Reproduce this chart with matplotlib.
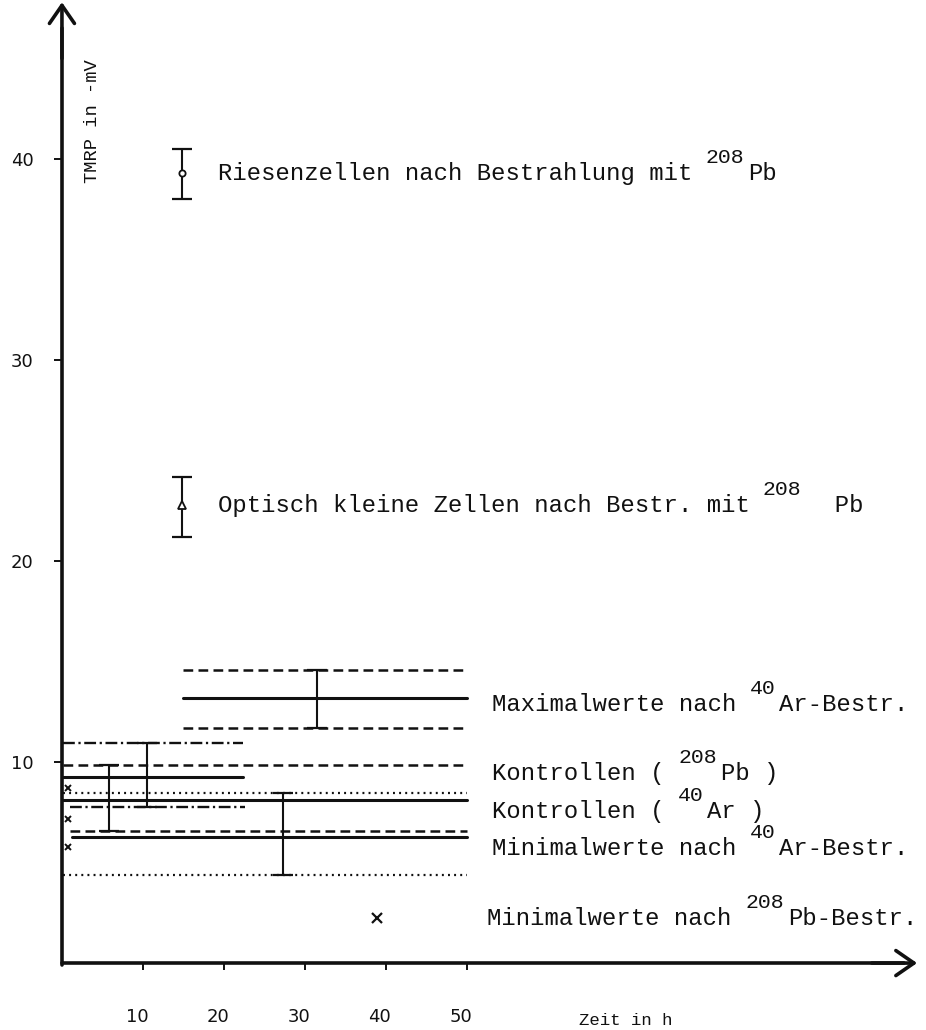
import matplotlib
matplotlib.use("Agg")
import matplotlib.pyplot as plt
from matplotlib.transforms import ScaledTranslation

plt.rcParams['lines.scale_dashes'] = False

# --- axes ---------------------------------------------------------------
x_ticks = [10, 20, 30, 40, 50]
x_tick_labels = ["10", "20", "30", "40", "50"]
y_ticks = [10, 20, 30, 40]
y_tick_labels = ["10", "20", "30", "40"]

# --- single measurements with error bars (time h, mean, low, high) ---------
giant_t, giant_mean, giant_lo, giant_hi = 14.8, 39.3, 38.0, 40.5
small_t, small_mean, small_lo, small_hi = 14.8, 22.8, 21.2, 24.2

# --- bands: mean line and its upper / lower bound lines --------------------
# maximum values after 40Ar irradiation
max_mean, max_lo, max_hi = 13.2, 11.7, 14.6
max_span = [14.9, 50.0]
max_err_t = 31.5

# controls, short band (dash-dot bounds)
ctrl_a_mean, ctrl_a_lo, ctrl_a_hi = 9.25, 7.76, 10.95
ctrl_a_span = [0.1, 22.4]
ctrl_a_lo_span = [1.0, 22.6]
ctrl_a_err_t = 10.5

# controls, long band (dashed bounds)
ctrl_b_mean, ctrl_b_lo, ctrl_b_hi = 8.1, 6.57, 9.85
ctrl_b_span = [0.1, 50.0]
ctrl_b_lo_span = [1.0, 50.0]
ctrl_b_err_t = 5.8

# minimum values after 40Ar irradiation (dotted bounds)
min_mean, min_lo, min_hi = 6.27, 4.38, 8.46
min_span = [1.3, 50.0]
min_bound_span = [0.1, 50.0]
min_err_t = 27.3

# individual control values near t = 0
ctrl_pts_t = [0.75, 0.75, 0.75]
ctrl_pts_v = [8.7, 7.16, 5.77]

# minimum value after 208Pb irradiation
min_pb_t, min_pb_v = 38.9, 2.24

K = "#111111"
MONO = "Liberation Mono"

fig = plt.figure(figsize=(9.26, 10.30), dpi=100)
ax = fig.add_axes([0, 0, 1, 1])
ax.set_xlim(-7.65, 106.7)
ax.set_ylim(-3.33, 47.91)
ax.patch.set_alpha(0)

for s in ("top", "right"):
    ax.spines[s].set_visible(False)
ax.spines["left"].set_position(("data", 0))
ax.spines["bottom"].set_position(("data", 0))
ax.spines["left"].set_bounds(-0.1, 46.5)
ax.spines["bottom"].set_bounds(-0.05, 104.0)
for s in ("left", "bottom"):
    ax.spines[s].set_linewidth(2.6)
    ax.spines[s].set_color(K)
    ax.spines[s].set_capstyle("round")

# arrow heads on both axes
arrow_kw = dict(arrowstyle="->,head_length=1.3,head_width=0.9", lw=2.6,
                color=K, shrinkA=0, shrinkB=0, mutation_scale=10)
ax.annotate("", xy=(0, 47.8), xytext=(0, 45.0), arrowprops=arrow_kw)
ax.annotate("", xy=(105.6, 0), xytext=(100.0, 0), arrowprops=arrow_kw)

ax.set_xticks(x_ticks)
ax.set_xticklabels(x_tick_labels, fontsize=13, family="DejaVu Sans", color=K)
ax.set_yticks(y_ticks)
ax.set_yticklabels(y_tick_labels, fontsize=13, family="DejaVu Sans", color=K)
ax.tick_params(axis="x", direction="out", length=5, width=1.4, pad=27, colors=K)
ax.tick_params(axis="y", direction="out", length=5.5, width=1.4, pad=15, colors=K)
shift = ScaledTranslation(-0.06, 0, fig.dpi_scale_trans)
for lab in ax.get_xticklabels():
    lab.set_transform(lab.get_transform() + shift)

ax.text(3.8, 41.9, "TMRP in -mV", rotation=90, ha="center", va="center",
        fontsize=13.5, family=MONO, color=K)
ax.text(63.9, -2.85, "Zeit in h", ha="left", va="center",
        fontsize=12.5, family=MONO, color=K)

# line styles
SOLID = dict(color=K, lw=2.2, solid_capstyle="round")
DASHED = dict(color=K, lw=1.8, dashes=(7.0, 3.8))
DOTTED = dict(color=K, lw=1.6, dashes=(1.4, 3.0))
DASHDOT = dict(color=K, lw=1.7, dashes=(8.5, 2.6, 1.6, 2.6))
ERR = dict(fmt="none", ecolor=K, elinewidth=1.5, capsize=7.5, capthick=1.6)

# maximum values band
ax.plot(max_span, [max_mean] * 2, **SOLID)
ax.plot(max_span, [max_hi] * 2, **DASHED)
ax.plot(max_span, [max_lo] * 2, **DASHED)
ax.errorbar([max_err_t], [max_mean],
            yerr=[[max_mean - max_lo], [max_hi - max_mean]], **ERR)

# control band A
ax.plot(ctrl_a_span, [ctrl_a_mean] * 2, **SOLID)
ax.plot(ctrl_a_span, [ctrl_a_hi] * 2, **DASHDOT)
ax.plot(ctrl_a_lo_span, [ctrl_a_lo] * 2, **DASHDOT)
ax.errorbar([ctrl_a_err_t], [ctrl_a_mean],
            yerr=[[ctrl_a_mean - ctrl_a_lo], [ctrl_a_hi - ctrl_a_mean]], **ERR)

# control band B
ax.plot(ctrl_b_span, [ctrl_b_mean] * 2, **SOLID)
ax.plot(ctrl_b_span, [ctrl_b_hi] * 2, **DASHED)
ax.plot(ctrl_b_lo_span, [ctrl_b_lo] * 2, **DASHED)
ax.errorbar([ctrl_b_err_t], [ctrl_b_mean],
            yerr=[[ctrl_b_mean - ctrl_b_lo], [ctrl_b_hi - ctrl_b_mean]], **ERR)

# minimum values band
ax.plot(min_span, [min_mean] * 2, **SOLID)
ax.plot(min_bound_span, [min_hi] * 2, **DOTTED)
ax.plot(min_bound_span, [min_lo] * 2, **DOTTED)
ax.errorbar([min_err_t], [min_mean],
            yerr=[[min_mean - min_lo], [min_hi - min_mean]], **ERR)

# individual points
ax.plot(ctrl_pts_t, ctrl_pts_v, ls="none", marker="x", ms=5, mew=1.4, color=K)
ax.plot([min_pb_t], [min_pb_v], ls="none", marker="x", ms=7.5, mew=1.6, color=K)

ax.errorbar([giant_t], [giant_mean],
            yerr=[[giant_mean - giant_lo], [giant_hi - giant_mean]], **ERR)
ax.plot([giant_t], [giant_mean], ls="none", marker="o", ms=4.5, mew=1.3,
        mfc="white", mec=K, zorder=5)
ax.errorbar([small_t], [small_mean],
            yerr=[[small_mean - small_lo], [small_hi - small_mean]], **ERR)
ax.plot([small_t], [small_mean], ls="none", marker="^", ms=6, mew=1.3,
        mfc="white", mec=K, zorder=5)


def typed_label(x, y, parts, fs=17.2):
    """Monospaced label made of (text, is_superscript) pieces."""
    off = 0.0
    base = -0.3 * fs
    for txt, sup in parts:
        size = fs * 0.9 if sup else fs
        dy = base + (0.72 * fs if sup else 0.0)
        ax.annotate(txt, xy=(x, y), xytext=(off, dy), textcoords="offset points",
                    fontsize=size, family=MONO, color=K, ha="left", va="baseline")
        off += len(txt) * 0.6 * fs


typed_label(19.3, giant_mean, [("Riesenzellen nach Bestrahlung mit ", False),
                               ("208", True), ("Pb", False)])
typed_label(19.3, small_mean, [("Optisch kleine Zellen nach Bestr. mit ", False),
                               ("208", True), ("  Pb", False)])
typed_label(53.1, 12.9, [("Maximalwerte nach ", False), ("40", True),
                         ("Ar-Bestr.", False)])
typed_label(53.1, 9.45, [("Kontrollen ( ", False), ("208", True), ("Pb )", False)])
typed_label(53.1, 7.56, [("Kontrollen ( ", False), ("40", True), ("Ar )", False)])
typed_label(53.1, 5.72, [("Minimalwerte nach ", False), ("40", True),
                         ("Ar-Bestr.", False)])
typed_label(52.5, 2.24, [("Minimalwerte nach ", False), ("208", True),
                         ("Pb-Bestr.", False)])

fig.savefig("out.png", dpi=100, facecolor="white")
